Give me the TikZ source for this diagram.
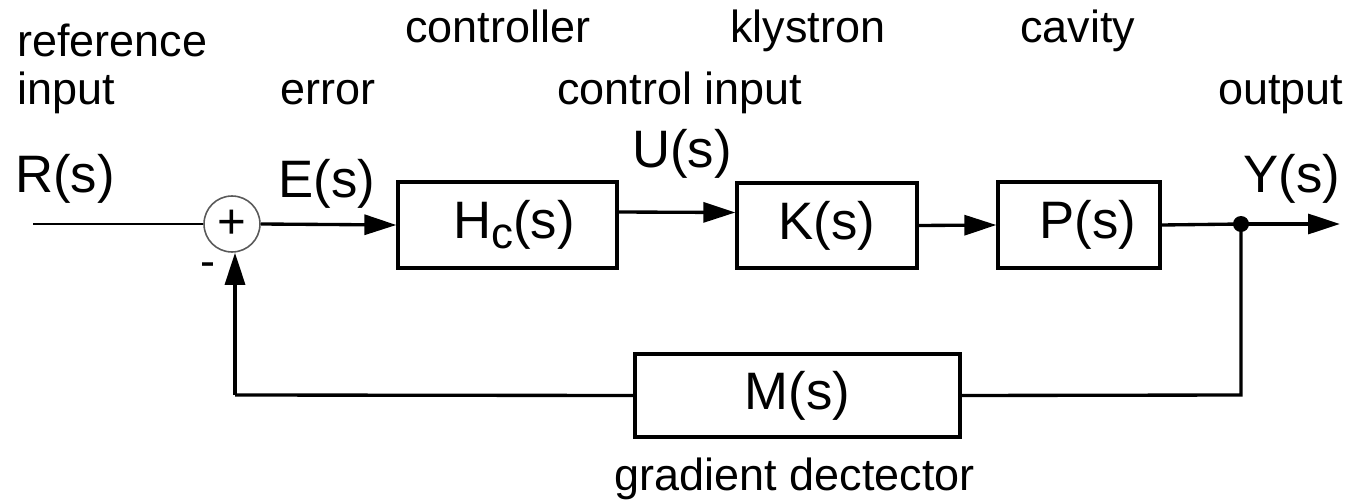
\documentclass[tikz,border=0pt]{standalone}
\usepackage{fontspec}
\setmainfont{Liberation Sans}
\usetikzlibrary{arrows.meta}
\tikzset{
  lbl/.style={inner sep=0pt, anchor=base west, font=\fontsize{25.6}{30}\selectfont},
  big/.style={inner sep=0pt, anchor=base west, font=\fontsize{30}{34}\selectfont},
  blk/.style={draw, line width=1.9pt, inner sep=0pt, font=\fontsize{30}{34}\selectfont},
  wire/.style={line width=1.9pt},
  arr/.style={line width=1.9pt, -{Triangle[length=0.64cm,width=0.4cm]}},
}
\begin{document}
\begin{tikzpicture}[x=0.02cm,y=-0.02cm]
\useasboundingbox (0,0) rectangle (1356,500);
% labels
\node[lbl] (tref) at (17,57) {reference};
\node[lbl] (tin) at (17,105) {input};
\node[lbl] (terr) at (280,105) {error};
\node[lbl] (tctl) at (405,43) {controller};
\node[lbl] (tkly) at (730,43) {klystron};
\node[lbl] (tcav) at (1020,43) {cavity};
\node[lbl] (tci) at (557,105) {control input};
\node[lbl] (tout) at (1218,105) {output};
\node[big] (tR) at (15,193) {R(s)};
\node[big] (tE) at (278,197) {E(s)};
\node[big] (tU) at (632,168) {U(s)};
\node[big] (tY) at (1243,193) {Y(s)};
\node[lbl, anchor=center] (tminus) at (208,270) {-};
\node[lbl, anchor=base] (tgd) at (795,490) {gradient dectector};
% blocks
\node[blk, minimum width=4.38cm, minimum height=1.72cm] (Hc) at (507.5,225) {\hspace*{0.26cm}H\raisebox{-0.35ex}{\fontsize{25}{26}\selectfont c}(s)};
\node[blk, minimum width=3.6cm, minimum height=1.7cm] (K) at (827,225.5) {K(s)};
\node[blk, minimum width=3.24cm, minimum height=1.72cm] (P) at (1079,225) {\hspace*{0.36cm}P(s)};
\node[blk, minimum width=6.5cm, minimum height=1.66cm] (M) at (797.5,395.5) {M(s)};
% summing junction
\node[draw=black!65, line width=0.9pt, circle, minimum size=1.12cm, inner sep=0pt, font=\fontsize{28}{30}\selectfont] (S) at (232,224) {+};
% points
\coordinate (in) at (33,224);
\coordinate (out) at (1340,224);
\coordinate (br) at (1241,224);
\coordinate (c1) at (1241,395);
\coordinate (c2) at (235,395);
\fill (br) circle (0.16cm);
% connectors
\draw[line width=1.7pt] (in) -- (S.west);
\draw[arr] (S.east) -- (Hc.west);
\draw[arr] ([yshift=0.26cm]Hc.east) -- ([yshift=0.26cm]K.west);
\draw[arr] (K.east) -- (P.west);
\draw[wire] (P.east) -- (br);
\draw[arr] (br) -- (out);
\draw[wire] (br) -- (c1) -- (M.east);
\draw[wire] (M.west) -- (c2);
\draw[arr] (c2) -- (c2 |- S.south);
\end{tikzpicture}
\end{document}
